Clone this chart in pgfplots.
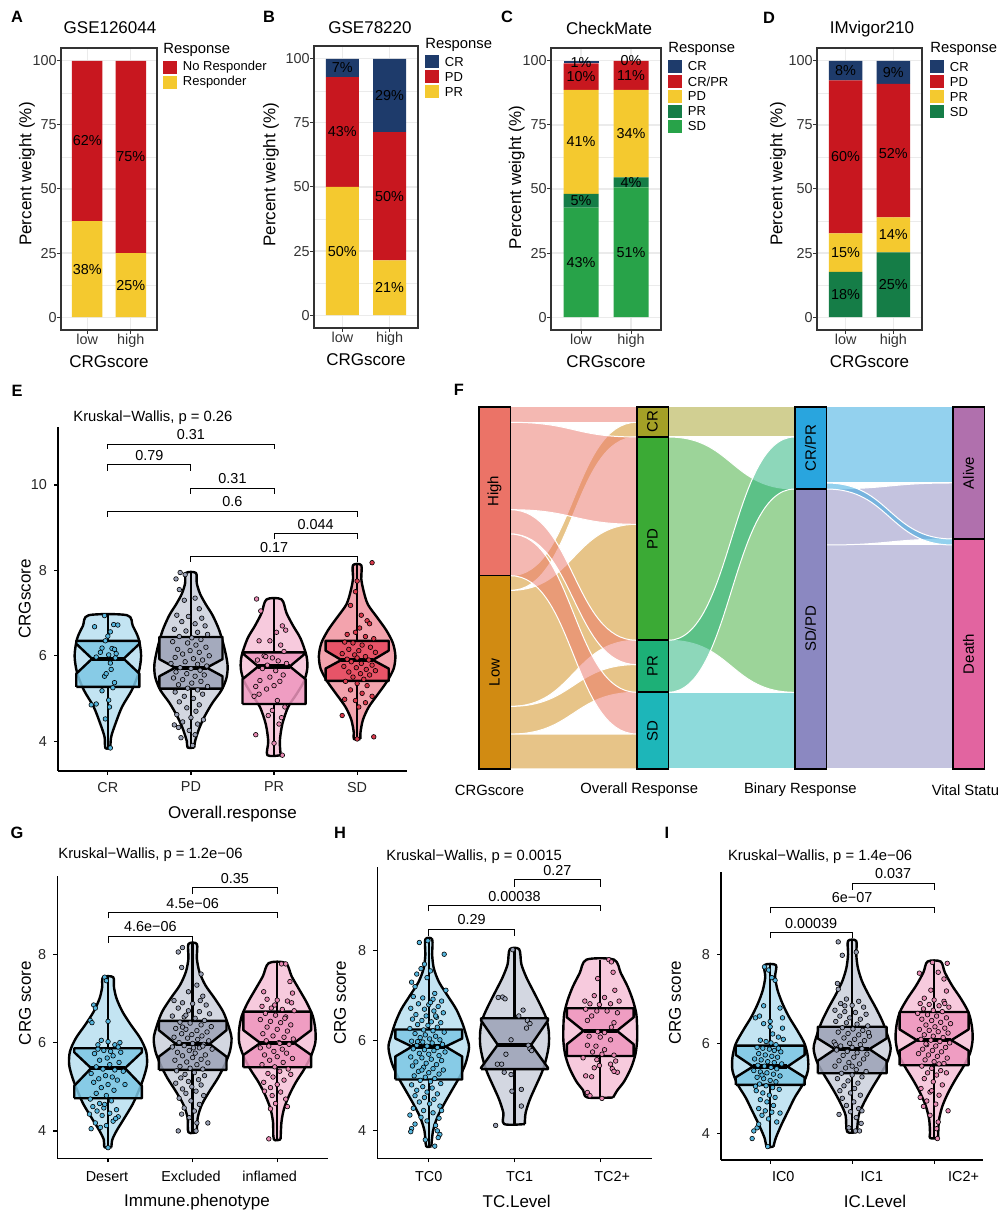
\documentclass[border=0pt]{standalone}
\usepackage{fontspec}
\setmainfont{Liberation Sans}
\usepackage{pgfplots}
\pgfplotsset{compat=1.18}
\usepackage{pgfplotstable}

\definecolor{cRed}{HTML}{C8171F}\definecolor{cYel}{HTML}{F4C92F}\definecolor{cNavy}{HTML}{1E3B6B}
\definecolor{cDGrn}{HTML}{157D47}\definecolor{cGrn}{HTML}{28A349}
\definecolor{bL}{HTML}{C3E4F2}\definecolor{bB}{HTML}{7DC7E5}\definecolor{bP}{HTML}{56B6DE}
\definecolor{gL}{HTML}{D3D7E1}\definecolor{gB}{HTML}{9CA3B7}\definecolor{gP}{HTML}{9AA1B5}
\definecolor{pL}{HTML}{F7CADD}\definecolor{pB}{HTML}{EE96BE}\definecolor{pP}{HTML}{E88AB3}
\definecolor{rL}{HTML}{F3A3AD}\definecolor{rB}{HTML}{E6475C}\definecolor{rP}{HTML}{D93A4C}
\definecolor{fHigh}{HTML}{EB7367}\definecolor{fLow}{HTML}{D18B12}\definecolor{fCR}{HTML}{A4A026}
\definecolor{fPD}{HTML}{3BAA35}\definecolor{fPR}{HTML}{1DB077}\definecolor{fSD}{HTML}{1DB6B9}
\definecolor{fCRPR}{HTML}{29A5DE}\definecolor{fSDPD}{HTML}{8B88C1}\definecolor{fAl}{HTML}{B070AD}\definecolor{fDe}{HTML}{E264A0}

\newcommand\tk{\fontsize{7.2}{8.5}\selectfont}
\newcommand\lb{\fontsize{8.5}{10}\selectfont}
\newcommand\an{\fontsize{7.2}{8.5}\selectfont}
\newcommand\kw{\fontsize{7.4}{8.5}\selectfont}
\newcommand\lgt{\fontsize{7.4}{8.5}\selectfont}
\newcommand\lgi{\fontsize{6.5}{7.5}\selectfont}
\newcommand\pl{\fontsize{8.2}{10}\bfseries\selectfont}
\newcommand\stf{\fontsize{7.5}{9}\selectfont}

% violin outlines: y and signed half width (right side up, left side down)
\pgfplotstableread[row sep=\\]{y w\\ 3.84 0.03\\ 4.1 0.04\\ 4.4 0.09\\ 4.8 0.17\\ 5.2 0.29\\ 5.6 0.37\\ 6.0 0.40\\ 6.4 0.37\\ 6.7 0.30\\ 6.95 0.23\\ 6.95 -0.23\\ 6.7 -0.30\\ 6.4 -0.37\\ 6.0 -0.40\\ 5.6 -0.37\\ 5.2 -0.29\\ 4.8 -0.17\\ 4.4 -0.09\\ 4.1 -0.04\\ 3.84 -0.03\\ 3.84 0.03\\}\vECR
\pgfplotstableread[row sep=\\]{y w\\ 3.85 0.04\\ 4.0 0.05\\ 4.3 0.10\\ 4.6 0.17\\ 4.9 0.26\\ 5.2 0.37\\ 5.5 0.43\\ 5.8 0.44\\ 6.2 0.40\\ 6.6 0.34\\ 6.95 0.26\\ 7.2 0.18\\ 7.45 0.11\\ 7.7 0.07\\ 7.94 0.06\\ 7.94 -0.06\\ 7.7 -0.07\\ 7.45 -0.11\\ 7.2 -0.18\\ 6.95 -0.26\\ 6.6 -0.34\\ 6.2 -0.40\\ 5.8 -0.44\\ 5.5 -0.43\\ 5.2 -0.37\\ 4.9 -0.26\\ 4.6 -0.17\\ 4.3 -0.10\\ 4.0 -0.05\\ 3.85 -0.04\\ 3.85 0.04\\}\vEPD
\pgfplotstableread[row sep=\\]{y w\\ 3.67 0.08\\ 4.0 0.07\\ 4.4 0.10\\ 4.8 0.17\\ 5.1 0.27\\ 5.4 0.36\\ 5.7 0.40\\ 6.0 0.39\\ 6.4 0.32\\ 6.7 0.23\\ 7.0 0.15\\ 7.32 0.09\\ 7.32 -0.09\\ 7.0 -0.15\\ 6.7 -0.23\\ 6.4 -0.32\\ 6.0 -0.39\\ 5.7 -0.40\\ 5.4 -0.36\\ 5.1 -0.27\\ 4.8 -0.17\\ 4.4 -0.10\\ 4.0 -0.07\\ 3.67 -0.08\\ 3.67 0.08\\}\vEPR
\pgfplotstableread[row sep=\\]{y w\\ 4.05 0.04\\ 4.2 0.04\\ 4.5 0.07\\ 4.8 0.14\\ 5.1 0.25\\ 5.4 0.36\\ 5.7 0.44\\ 6.0 0.46\\ 6.3 0.43\\ 6.6 0.35\\ 6.9 0.24\\ 7.2 0.13\\ 7.5 0.08\\ 7.8 0.05\\ 8.12 0.05\\ 8.12 -0.05\\ 7.8 -0.05\\ 7.5 -0.08\\ 7.2 -0.13\\ 6.9 -0.24\\ 6.6 -0.35\\ 6.3 -0.43\\ 6.0 -0.46\\ 5.7 -0.44\\ 5.4 -0.36\\ 5.1 -0.25\\ 4.8 -0.14\\ 4.5 -0.07\\ 4.2 -0.04\\ 4.05 -0.04\\ 4.05 0.04\\}\vESD
\pgfplotstableread[row sep=\\]{y w\\ 3.63 0.04\\ 3.8 0.05\\ 4.0 0.10\\ 4.25 0.18\\ 4.6 0.29\\ 4.9 0.36\\ 5.2 0.42\\ 5.5 0.46\\ 5.8 0.45\\ 6.1 0.38\\ 6.4 0.27\\ 6.7 0.17\\ 7.0 0.10\\ 7.25 0.07\\ 7.48 0.06\\ 7.48 -0.06\\ 7.25 -0.07\\ 7.0 -0.10\\ 6.7 -0.17\\ 6.4 -0.27\\ 6.1 -0.38\\ 5.8 -0.45\\ 5.5 -0.46\\ 5.2 -0.42\\ 4.9 -0.36\\ 4.6 -0.29\\ 4.25 -0.18\\ 4.0 -0.10\\ 3.8 -0.05\\ 3.63 -0.04\\ 3.63 0.04\\}\vGD
\pgfplotstableread[row sep=\\]{y w\\ 3.97 0.05\\ 4.3 0.06\\ 4.6 0.11\\ 4.9 0.20\\ 5.2 0.30\\ 5.5 0.38\\ 5.8 0.44\\ 6.1 0.46\\ 6.4 0.42\\ 6.7 0.36\\ 7.0 0.26\\ 7.3 0.15\\ 7.6 0.08\\ 7.9 0.05\\ 8.23 0.05\\ 8.23 -0.05\\ 7.9 -0.05\\ 7.6 -0.08\\ 7.3 -0.15\\ 7.0 -0.26\\ 6.7 -0.36\\ 6.4 -0.42\\ 6.1 -0.46\\ 5.8 -0.44\\ 5.5 -0.38\\ 5.2 -0.30\\ 4.9 -0.20\\ 4.6 -0.11\\ 4.3 -0.06\\ 3.97 -0.05\\ 3.97 0.05\\}\vGE
\pgfplotstableread[row sep=\\]{y w\\ 3.81 0.04\\ 4.2 0.05\\ 4.5 0.08\\ 4.8 0.14\\ 5.1 0.22\\ 5.4 0.32\\ 5.7 0.40\\ 6.0 0.45\\ 6.3 0.45\\ 6.6 0.42\\ 6.9 0.35\\ 7.2 0.26\\ 7.5 0.17\\ 7.8 0.10\\ 7.8 -0.10\\ 7.5 -0.17\\ 7.2 -0.26\\ 6.9 -0.35\\ 6.6 -0.42\\ 6.3 -0.45\\ 6.0 -0.45\\ 5.7 -0.40\\ 5.4 -0.32\\ 5.1 -0.22\\ 4.8 -0.14\\ 4.5 -0.08\\ 4.2 -0.05\\ 3.81 -0.04\\ 3.81 0.04\\}\vGI
\pgfplotstableread[row sep=\\]{y w\\ 3.66 0.03\\ 4.0 0.05\\ 4.3 0.10\\ 4.6 0.18\\ 4.9 0.27\\ 5.2 0.36\\ 5.5 0.43\\ 5.85 0.47\\ 6.1 0.44\\ 6.4 0.39\\ 6.7 0.32\\ 7.0 0.22\\ 7.3 0.12\\ 7.6 0.06\\ 7.9 0.04\\ 8.25 0.04\\ 8.25 -0.04\\ 7.9 -0.04\\ 7.6 -0.06\\ 7.3 -0.12\\ 7.0 -0.22\\ 6.7 -0.32\\ 6.4 -0.39\\ 6.1 -0.44\\ 5.85 -0.47\\ 5.5 -0.43\\ 5.2 -0.36\\ 4.9 -0.27\\ 4.6 -0.18\\ 4.3 -0.10\\ 4.0 -0.05\\ 3.66 -0.03\\ 3.66 0.03\\}\vHA
\pgfplotstableread[row sep=\\]{y w\\ 4.15 0.12\\ 4.4 0.13\\ 4.7 0.18\\ 5.0 0.25\\ 5.3 0.32\\ 5.6 0.37\\ 5.9 0.40\\ 6.2 0.40\\ 6.5 0.37\\ 6.8 0.30\\ 7.1 0.22\\ 7.4 0.14\\ 7.7 0.08\\ 8.03 0.055\\ 8.03 -0.055\\ 7.7 -0.08\\ 7.4 -0.14\\ 7.1 -0.22\\ 6.8 -0.30\\ 6.5 -0.37\\ 6.2 -0.40\\ 5.9 -0.40\\ 5.6 -0.37\\ 5.3 -0.32\\ 5.0 -0.25\\ 4.7 -0.18\\ 4.4 -0.13\\ 4.15 -0.12\\ 4.15 0.12\\}\vHB
\pgfplotstableread[row sep=\\]{y w\\ 4.74 0.15\\ 4.9 0.20\\ 5.1 0.28\\ 5.4 0.36\\ 5.7 0.41\\ 6.0 0.43\\ 6.3 0.43\\ 6.6 0.42\\ 6.9 0.38\\ 7.2 0.32\\ 7.5 0.24\\ 7.8 0.16\\ 7.8 -0.16\\ 7.5 -0.24\\ 7.2 -0.32\\ 6.9 -0.38\\ 6.6 -0.42\\ 6.3 -0.43\\ 6.0 -0.43\\ 5.7 -0.41\\ 5.4 -0.36\\ 5.1 -0.28\\ 4.9 -0.20\\ 4.74 -0.15\\ 4.74 0.15\\}\vHC
\pgfplotstableread[row sep=\\]{y w\\ 3.70 0.04\\ 3.9 0.07\\ 4.2 0.14\\ 4.5 0.22\\ 4.8 0.30\\ 5.1 0.40\\ 5.4 0.46\\ 5.7 0.46\\ 6.0 0.42\\ 6.3 0.33\\ 6.6 0.23\\ 6.9 0.15\\ 7.2 0.09\\ 7.5 0.06\\ 7.76 0.07\\ 7.76 -0.07\\ 7.5 -0.06\\ 7.2 -0.09\\ 6.9 -0.15\\ 6.6 -0.23\\ 6.3 -0.33\\ 6.0 -0.42\\ 5.7 -0.46\\ 5.4 -0.46\\ 5.1 -0.40\\ 4.8 -0.30\\ 4.5 -0.22\\ 4.2 -0.14\\ 3.9 -0.07\\ 3.70 -0.04\\ 3.70 0.04\\}\vIA
\pgfplotstableread[row sep=\\]{y w\\ 4.03 0.06\\ 4.4 0.08\\ 4.7 0.15\\ 5.0 0.24\\ 5.3 0.34\\ 5.6 0.43\\ 5.9 0.47\\ 6.2 0.43\\ 6.5 0.37\\ 6.8 0.29\\ 7.1 0.20\\ 7.4 0.12\\ 7.7 0.07\\ 8.0 0.05\\ 8.30 0.05\\ 8.30 -0.05\\ 8.0 -0.05\\ 7.7 -0.07\\ 7.4 -0.12\\ 7.1 -0.20\\ 6.8 -0.29\\ 6.5 -0.37\\ 6.2 -0.43\\ 5.9 -0.47\\ 5.6 -0.43\\ 5.3 -0.34\\ 5.0 -0.24\\ 4.7 -0.15\\ 4.4 -0.08\\ 4.03 -0.06\\ 4.03 0.06\\}\vIB
\pgfplotstableread[row sep=\\]{y w\\ 3.89 0.05\\ 4.0 0.05\\ 4.3 0.06\\ 4.6 0.10\\ 4.9 0.17\\ 5.2 0.26\\ 5.5 0.36\\ 5.8 0.44\\ 6.1 0.47\\ 6.4 0.46\\ 6.7 0.42\\ 7.0 0.33\\ 7.3 0.22\\ 7.6 0.13\\ 7.84 0.08\\ 7.84 -0.08\\ 7.6 -0.13\\ 7.3 -0.22\\ 7.0 -0.33\\ 6.7 -0.42\\ 6.4 -0.46\\ 6.1 -0.47\\ 5.8 -0.44\\ 5.5 -0.36\\ 5.2 -0.26\\ 4.9 -0.17\\ 4.6 -0.10\\ 4.3 -0.06\\ 4.0 -0.05\\ 3.89 -0.05\\ 3.89 0.05\\}\vIC

\newcommand\violin[3]{%
 \addplot[fill=#3, draw=black, line width=1.2pt, line join=round, smooth, tension=0.5] table[x expr={#1+\thisrow{w}}, y=y] {#2};}
\newcommand\wh[5]{%
 \addplot[black, line width=1.2pt] coordinates {(#1,#2)(#1,#3)};
 \addplot[black, line width=1.2pt] coordinates {(#1,#4)(#1,#5)};}
\newcommand\nbox[8]{% c hw q1 nlo med nhi q3 color
 \pgfmathsetmacro\xl{#1-#2}\pgfmathsetmacro\xr{#1+#2}\pgfmathsetmacro\xnl{#1-#2/2}\pgfmathsetmacro\xnr{#1+#2/2}%
 \edef\tmp{\noexpand\addplot[fill=#8, fill opacity=0.85, draw=black, line width=1.2pt, line join=round] coordinates {(\xl,#3) (\xl,#4) (\xnl,#5) (\xl,#6) (\xl,#7) (\xr,#7) (\xr,#6) (\xnr,#5) (\xr,#4) (\xr,#3) (\xl,#3)};}\tmp
 \edef\tmp{\noexpand\addplot[black, line width=2.2pt] coordinates {(\xnl,#5) (\xnr,#5)};}\tmp}
\newcommand\br[6]{% x1 x2 xm ydrop yline text
 \draw[line width=0.5pt] (axis cs:#1,#4) -- (axis cs:#1,#5) -- (axis cs:#2,#5) -- (axis cs:#2,#4);
 \node[font=\an, anchor=south, inner sep=2pt] at (axis cs:#3,#5) {#6};}
\newcommand\flow[7]{% x1 a1 b1 x2 a2 b2 color
 \pgfmathsetmacro\fxs{#1+0.1}\pgfmathsetmacro\fxe{#4-0.1}\pgfmathsetmacro\fxm{(#1+#4)/2}%
 \edef\tmp{\noexpand\fill[#7, fill opacity=0.5, draw=white, line width=0.5pt] (axis cs:\fxs,#3) .. controls (axis cs:\fxm,#3) and (axis cs:\fxm,#6) .. (axis cs:\fxe,#6) -- (axis cs:\fxe,#5) .. controls (axis cs:\fxm,#5) and (axis cs:\fxm,#2) .. (axis cs:\fxs,#2) -- cycle;}\tmp}
\newcommand\lkey[4]{\fill[#3] (#1,{1211-#2-6.5}) rectangle ({#1+14},{1211-#2+6.5}); \node[anchor=west,font=\lgi,inner sep=0] at ({#1+19.5},{1211-#2}) {#4};}

\pgfplotsset{
 /pgf/number format/assume math mode=true,
 pts/.style={only marks, mark=*, mark size=1.15pt, mark options={fill=#1, draw=black, line width=0.3pt}},
 barax/.style={anchor=south west, scale only axis, height=141pt, ymin=-5, ymax=105, xmin=0.4, xmax=2.6,
  ybar stacked, bar width=0.7, ytick={0,25,50,75,100}, minor ytick={12.5,37.5,62.5,87.5},
  xtick={1,2}, xticklabels={low,high}, grid=both,
  major grid style={draw=black!8, line width=0.6pt}, minor grid style={draw=black!8, line width=0.35pt},
  axis line style={draw=black!80, line width=0.6pt}, tick pos=left, tick align=outside,
  major tick length=2pt, minor tick length=0pt, major tick style={draw=black!80, line width=0.5pt},
  ticklabel style={font=\tk, text=black!80},
  yticklabel style={xshift=0.8pt, inner sep=0.8pt}, xticklabel style={yshift=1.2pt, inner sep=0.8pt},
  xlabel={CRGscore}, ylabel={Percent weight (\%)},
  label style={font=\lb}, clip=false},
 vax/.style={anchor=south west, scale only axis, axis lines*=left, axis line style={line width=0.7pt},
  tick align=outside, major tick length=2pt, tick style={black, line width=0.6pt},
  ticklabel style={font=\tk, text=black!85}, label style={font=\lb}, clip=false},
}

\begin{document}
\begin{tikzpicture}[x=0.5pt,y=0.5pt]
\fill[white] (0,0) rectangle (998,1211);

% ---------------- A ----------------
\node[font=\pl] at (17,1194) {A};
\node[font=\lb] at (110,1183) {GSE126044};
\begin{axis}[barax, at={(30.5pt,440.5pt)}, width=48pt,
 xlabel style={at={(axis description cs:0.5,-0.113)},anchor=center},
 ylabel style={at={(axis description cs:-0.354,0.553)},anchor=center}]
\addplot[fill=cYel, draw=none] coordinates {(1,37.5)(2,25)};
\addplot[fill=cRed, draw=none] coordinates {(1,62.5)(2,75)};
\coordinate (a1) at (axis cs:1,18.75);
\coordinate (a2) at (axis cs:1,68.75);
\coordinate (a3) at (axis cs:2,12.5);
\coordinate (a4) at (axis cs:2,62.5);
\end{axis}
\node[font=\tk] at (a1) {38\%};
\node[font=\tk] at (a2) {62\%};
\node[font=\tk] at (a3) {25\%};
\node[font=\tk] at (a4) {75\%};
\node[anchor=west,font=\lgt,inner sep=0] at (163,1161) {Response};
\lkey{163}{67.5}{cRed}{No Responder}
\lkey{163}{82.5}{cYel}{Responder}

% ---------------- B ----------------
\node[font=\pl] at (269,1194) {B};
\node[font=\lb] at (370,1183) {GSE78220};
\begin{axis}[barax, at={(157pt,441.5pt)}, width=52pt,
 xlabel style={at={(axis description cs:0.5,-0.113)},anchor=center},
 ylabel style={at={(axis description cs:-0.413,0.543)},anchor=center}]
\addplot[fill=cYel, draw=none] coordinates {(1,50)(2,21.4)};
\addplot[fill=cRed, draw=none] coordinates {(1,42.9)(2,50)};
\addplot[fill=cNavy, draw=none] coordinates {(1,7.1)(2,28.6)};
\coordinate (b1) at (axis cs:1,25);
\coordinate (b2) at (axis cs:1,71.45);
\coordinate (b3) at (axis cs:1,96.45);
\coordinate (b4) at (axis cs:2,10.7);
\coordinate (b5) at (axis cs:2,46.4);
\coordinate (b6) at (axis cs:2,85.7);
\end{axis}
\node[font=\tk] at (b1) {50\%};
\node[font=\tk] at (b2) {43\%};
\node[font=\tk] at (b3) {7\%};
\node[font=\tk] at (b4) {21\%};
\node[font=\tk] at (b5) {50\%};
\node[font=\tk] at (b6) {29\%};
\node[anchor=west,font=\lgt,inner sep=0] at (425,1166) {Response};
\lkey{425}{62}{cNavy}{CR}
\lkey{425}{77}{cRed}{PD}
\lkey{425}{92}{cYel}{PR}

% ---------------- C ----------------
\node[font=\pl] at (507,1194) {C};
\node[font=\lb] at (609,1183) {CheckMate};
\begin{axis}[barax, at={(275.5pt,440.5pt)}, width=55pt,
 xlabel style={at={(axis description cs:0.5,-0.112)},anchor=center},
 ylabel style={at={(axis description cs:-0.312,0.541)},anchor=center}]
\addplot[fill=cGrn, draw=none] coordinates {(1,42.7)(2,50.6)};
\addplot[fill=cDGrn, draw=none] coordinates {(1,5.4)(2,3.9)};
\addplot[fill=cYel, draw=none] coordinates {(1,40.6)(2,34.2)};
\addplot[fill=cRed, draw=none] coordinates {(1,10.3)(2,11.3)};
\addplot[fill=cNavy, draw=none] coordinates {(1,1.0)(2,0)};
\coordinate (c1) at (axis cs:1,21.35);
\coordinate (c2) at (axis cs:1,45.4);
\coordinate (c3) at (axis cs:1,68.4);
\coordinate (c4) at (axis cs:1,93.85);
\coordinate (c5) at (axis cs:1,99.5);
\coordinate (c6) at (axis cs:2,25.3);
\coordinate (c7) at (axis cs:2,52.55);
\coordinate (c8) at (axis cs:2,71.6);
\coordinate (c9) at (axis cs:2,94.35);
\coordinate (c10) at (axis cs:2,100);
\end{axis}
\node[font=\tk] at (c1) {43\%};
\node[font=\tk] at (c2) {5\%};
\node[font=\tk] at (c3) {41\%};
\node[font=\tk] at (c4) {10\%};
\node[font=\tk] at (c5) {1\%};
\node[font=\tk] at (c6) {51\%};
\node[font=\tk] at (c7) {4\%};
\node[font=\tk] at (c8) {34\%};
\node[font=\tk] at (c9) {11\%};
\node[font=\tk] at (c10) {0\%};
\node[anchor=west,font=\lgt,inner sep=0] at (668,1162) {Response};
\lkey{668}{66.5}{cNavy}{CR}
\lkey{668}{81.5}{cRed}{CR/PR}
\lkey{668}{96.5}{cYel}{PD}
\lkey{668}{111.5}{cDGrn}{PR}
\lkey{668}{126.5}{cGrn}{SD}

% ---------------- D ----------------
\node[font=\pl] at (769,1193) {D};
\node[font=\lb] at (872,1182) {IMvigor210};
\begin{axis}[barax, at={(408.5pt,440.5pt)}, width=52.5pt,
 xlabel style={at={(axis description cs:0.5,-0.112)},anchor=center},
 ylabel style={at={(axis description cs:-0.371,0.553)},anchor=center}]
\addplot[fill=cDGrn, draw=none] coordinates {(1,17.7)(2,25.3)};
\addplot[fill=cYel, draw=none] coordinates {(1,15.0)(2,13.6)};
\addplot[fill=cRed, draw=none] coordinates {(1,59.7)(2,52.1)};
\addplot[fill=cNavy, draw=none] coordinates {(1,7.6)(2,9.0)};
\coordinate (d1) at (axis cs:1,8.85);
\coordinate (d2) at (axis cs:1,25.2);
\coordinate (d3) at (axis cs:1,62.55);
\coordinate (d4) at (axis cs:1,96.2);
\coordinate (d5) at (axis cs:2,12.65);
\coordinate (d6) at (axis cs:2,32.1);
\coordinate (d7) at (axis cs:2,63.95);
\coordinate (d8) at (axis cs:2,95.5);
\end{axis}
\node[font=\tk] at (d1) {18\%};
\node[font=\tk] at (d2) {15\%};
\node[font=\tk] at (d3) {60\%};
\node[font=\tk] at (d4) {8\%};
\node[font=\tk] at (d5) {25\%};
\node[font=\tk] at (d6) {14\%};
\node[font=\tk] at (d7) {52\%};
\node[font=\tk] at (d8) {9\%};
\node[anchor=west,font=\lgt,inner sep=0] at (930,1162) {Response};
\lkey{930}{67}{cNavy}{CR}
\lkey{930}{82}{cRed}{PD}
\lkey{930}{97}{cYel}{PR}
\lkey{930}{112}{cDGrn}{SD}

% ---------------- E ----------------
\node[font=\pl] at (17,820) {E};
\node[anchor=west,font=\kw,inner sep=0] at (73,793) {Kruskal−Wallis, p = 0.26};
\begin{axis}[vax, at={(29pt,220pt)}, width=174.5pt, height=172pt, xmin=0.4, xmax=4.6, ymin=3.3, ymax=11.36,
 ytick={4,6,8,10}, xtick={1,2,3,4}, xticklabels={CR,PD,PR,SD}, xlabel={Overall.response}, ylabel={CRGscore},
 xlabel style={at={(axis description cs:0.5,-0.125)},anchor=center},
 ylabel style={at={(axis description cs:-0.095,0.5)},anchor=center}]
\violin{1}{\vECR}{bL}
\wh{1}{5.27}{3.84}{6.35}{6.95}
\nbox{1}{0.38}{5.27}{5.58}{5.93}{6.28}{6.35}{bB}
\addplot[pts=bP] coordinates {(0.96,6.94)(0.84,6.68)(1.07,6.73)(1.03,6.56)(1.00,6.46)(0.97,6.35)(0.93,6.18)(1.05,6.17)(1.08,6.15)(1.01,6.02)(0.86,5.97)(1.09,5.95)(1.03,5.83)(1.04,5.68)(0.96,5.52)(1.08,5.37)(0.93,5.18)(0.86,4.87)(1.01,4.96)(1.02,4.80)(0.80,4.85)(0.97,4.52)(1.03,3.84)(1.12,6.72)(0.91,6.08)(1.06,5.25)(0.98,5.58)(1.10,6.05)};
\violin{2}{\vEPD}{gL}
\wh{2}{5.23}{3.85}{6.44}{7.94}
\nbox{2}{0.38}{5.23}{5.52}{5.72}{5.92}{6.44}{gB}
\addplot[pts=gP] coordinates {(1.87,7.95)(1.93,7.90)(1.82,7.80)(1.86,7.55)(2.05,7.35)(1.92,7.30)(2.10,7.10)(1.83,6.95)(1.97,6.92)(2.13,6.88)(1.89,6.80)(2.05,6.75)(2.17,6.70)(1.80,6.62)(1.94,6.58)(2.08,6.55)(2.20,6.50)(1.86,6.45)(2.01,6.42)(2.12,6.38)(1.78,6.33)(1.96,6.30)(2.06,6.25)(2.18,6.20)(1.84,6.15)(1.99,6.12)(2.10,6.08)(1.90,6.04)(2.22,6.00)(1.81,5.96)(2.03,5.93)(2.14,5.90)(1.93,5.86)(1.76,5.82)(2.08,5.80)(2.19,5.76)(1.87,5.72)(2.00,5.70)(2.11,5.66)(1.82,5.62)(1.95,5.58)(2.16,5.55)(2.05,5.52)(1.79,5.48)(1.90,5.44)(2.12,5.40)(2.01,5.36)(1.85,5.32)(2.20,5.28)(1.96,5.24)(2.08,5.20)(1.81,5.15)(2.14,5.10)(1.92,5.05)(2.03,5.00)(1.86,4.92)(2.10,4.85)(1.95,4.78)(2.06,4.70)(1.83,4.62)(2.00,4.55)(1.90,4.45)(2.08,4.40)(1.85,4.32)(1.98,4.25)(2.05,4.15)(1.88,4.08)(2.02,3.90)(1.80,4.38)(2.15,4.50)};
\violin{3}{\vEPR}{pL}
\wh{3}{4.87}{3.67}{6.08}{7.32}
\nbox{3}{0.38}{4.87}{5.45}{5.75}{6.06}{6.08}{pB}
\addplot[pts=pP] coordinates {(2.79,7.33)(2.84,7.05)(3.03,6.55)(3.10,6.70)(3.14,6.60)(2.82,6.35)(2.95,6.35)(3.08,6.25)(3.12,6.10)(2.88,6.00)(2.98,5.95)(2.80,5.90)(3.05,5.88)(3.15,5.82)(2.92,5.78)(2.86,5.70)(3.02,5.65)(3.11,5.55)(2.95,5.50)(2.83,5.42)(3.07,5.40)(2.78,5.28)(2.91,5.22)(3.00,5.30)(2.82,5.10)(2.76,5.05)(3.04,4.95)(3.13,4.80)(2.98,4.72)(3.09,4.55)(2.93,4.60)(3.06,4.40)(2.78,4.15)(3.00,3.95)(3.10,3.67)(2.90,5.98)};
\violin{4}{\vESD}{rL}
\wh{4}{5.41}{4.05}{6.35}{8.12}
\nbox{4}{0.38}{5.41}{5.70}{5.90}{6.12}{6.35}{rB}
\addplot[pts=rP] coordinates {(4.18,8.18)(4.00,7.75)(3.98,7.50)(3.92,7.18)(4.05,6.95)(4.12,6.82)(4.15,6.75)(4.03,6.65)(3.98,6.55)(3.88,6.50)(4.10,6.45)(4.20,6.40)(3.85,6.32)(3.95,6.30)(4.06,6.25)(4.16,6.20)(3.90,6.15)(4.02,6.12)(4.22,6.08)(3.82,6.05)(3.97,6.02)(4.10,5.98)(4.00,5.95)(3.88,5.92)(4.14,5.90)(3.93,5.86)(4.05,5.82)(4.18,5.78)(3.84,5.75)(3.99,5.72)(4.11,5.68)(4.22,5.65)(3.90,5.62)(4.04,5.58)(4.15,5.55)(3.95,5.50)(4.08,5.45)(3.86,5.40)(4.00,5.35)(4.12,5.30)(3.92,5.20)(4.06,5.12)(4.18,5.05)(3.85,4.98)(3.98,4.95)(4.10,4.90)(4.02,4.80)(3.82,4.60)(4.00,4.05)(4.20,4.10)};
\br{1}{3}{2}{10.84}{10.96}{0.31}
\br{1}{2}{1.5}{10.33}{10.47}{0.79}
\br{2}{3}{2.5}{9.79}{9.92}{0.31}
\br{1}{4}{2.5}{9.26}{9.39}{0.6}
\br{3}{4}{3.5}{8.73}{8.86}{0.044}
\br{2}{4}{3}{8.20}{8.32}{0.17}
\end{axis}

% ---------------- F ----------------
\node[font=\pl] at (459,821) {F};
\begin{axis}[anchor=south west, at={(239.35pt,221pt)}, scale only axis, width=252.8pt, height=181pt,
 xmin=0.9, xmax=4.1, ymin=0, ymax=362, hide axis, clip=false]
\flow{1}{178.6}{193.3}{2}{332}{346.7}{fLow}
\flow{1}{62.6}{178.6}{2}{128.7}{244.7}{fLow}
\flow{1}{34.9}{62.6}{2}{76.7}{104.4}{fLow}
\flow{1}{0}{34.9}{2}{0}{35}{fLow}
\flow{1}{346.7}{362}{2}{346.7}{362}{fHigh}
\flow{1}{259.3}{346.7}{2}{244.7}{332}{fHigh}
\flow{1}{235}{259.3}{2}{104.4}{128.7}{fHigh}
\flow{1}{193.3}{235}{2}{35}{76.7}{fHigh}
\flow{2}{332}{362}{3}{332}{362}{fCR}
\flow{2}{128.7}{332}{3}{76.7}{280}{fPD}
\flow{2}{76.7}{128.7}{3}{280}{332}{fPR}
\flow{2}{0}{76.7}{3}{0}{76.7}{fSD}
\flow{3}{0}{224}{4}{0}{224}{fSDPD}
\flow{3}{224}{280}{4}{230}{286}{fSDPD}
\flow{3}{286}{362}{4}{286}{362}{fCRPR}
\flow{3}{280}{286}{4}{224}{230}{fCRPR}
\draw[fill=fHigh, line width=0.8pt] (axis cs:0.9,193.3) rectangle (axis cs:1.1,362);
\draw[fill=fLow, line width=0.8pt] (axis cs:0.9,0) rectangle (axis cs:1.1,193.3);
\draw[fill=fCR, line width=0.8pt] (axis cs:1.9,332) rectangle (axis cs:2.1,362);
\draw[fill=fPD, line width=0.8pt] (axis cs:1.9,128.7) rectangle (axis cs:2.1,332);
\draw[fill=fPR, line width=0.8pt] (axis cs:1.9,76.7) rectangle (axis cs:2.1,128.7);
\draw[fill=fSD, line width=0.8pt] (axis cs:1.9,0) rectangle (axis cs:2.1,76.7);
\draw[fill=fCRPR, line width=0.8pt] (axis cs:2.9,280) rectangle (axis cs:3.1,362);
\draw[fill=fSDPD, line width=0.8pt] (axis cs:2.9,0) rectangle (axis cs:3.1,280);
\draw[fill=fAl, line width=0.8pt] (axis cs:3.9,230) rectangle (axis cs:4.1,362);
\draw[fill=fDe, line width=0.8pt] (axis cs:3.9,0) rectangle (axis cs:4.1,230);
\node[rotate=90,font=\stf] at (axis cs:1,277.6) {High};
\node[rotate=90,font=\stf] at (axis cs:1,96.7) {Low};
\node[rotate=90,font=\stf] at (axis cs:2,347) {CR};
\node[rotate=90,font=\stf] at (axis cs:2,230.4) {PD};
\node[rotate=90,font=\stf] at (axis cs:2,102.7) {PR};
\node[rotate=90,font=\stf] at (axis cs:2,38.4) {SD};
\node[rotate=90,font=\stf] at (axis cs:3,321) {CR/PR};
\node[rotate=90,font=\stf] at (axis cs:3,140) {SD/PD};
\node[rotate=90,font=\stf] at (axis cs:4,296) {Alive};
\node[rotate=90,font=\stf] at (axis cs:4,115) {Death};
\node[font=\lgt] at (axis cs:0.968,-21) {CRGscore};
\node[font=\lgt] at (axis cs:1.916,-21) {Overall Response};
\node[font=\lgt] at (axis cs:2.936,-21) {Binary Response};
\node[font=\lgt] at (axis cs:4.004,-21) {Vital Status};
\end{axis}

% ---------------- G ----------------
\node[font=\pl] at (17,378) {G};
\node[anchor=west,font=\kw,inner sep=0] at (58,356) {Kruskal−Wallis, p = 1.2e−06};
\begin{axis}[vax, at={(28.65pt,26.35pt)}, width=135.35pt, height=141.15pt, xmin=0.4, xmax=3.6, ymin=3.38, ymax=9.77,
 ytick={4,6,8}, xtick={1,2,3}, xticklabels={\mbox{},\mbox{},\mbox{}}, xlabel={Immune.phenotype}, ylabel={CRG score},
 xlabel style={at={(axis description cs:0.516,-0.154)},anchor=center},
 ylabel style={at={(axis description cs:-0.119,0.55)},anchor=center}]
\violin{1}{\vGD}{bL}
\wh{1}{4.74}{3.63}{5.87}{7.48}
\nbox{1}{0.40}{4.74}{5.02}{5.42}{5.78}{5.87}{bB}
\addplot[pts=bP] coordinates {(0.96,7.48)(0.98,7.40)(0.83,6.85)(0.85,6.78)(0.79,6.50)(0.81,6.45)(1.00,6.48)(0.92,6.05)(1.00,6.02)(1.08,5.95)(1.12,5.90)(0.88,5.85)(0.95,5.82)(1.03,5.80)(1.15,5.78)(0.84,5.75)(1.06,5.70)(0.99,5.65)(0.90,5.60)(1.13,5.55)(1.02,5.50)(0.86,5.45)(0.94,5.40)(1.08,5.38)(1.18,5.35)(0.80,5.30)(0.97,5.25)(1.05,5.22)(0.89,5.18)(1.11,5.15)(0.83,5.10)(1.00,5.05)(1.20,5.05)(0.92,4.98)(1.07,4.92)(0.86,4.85)(0.98,4.80)(0.79,4.72)(1.04,4.68)(0.90,4.62)(0.82,4.55)(0.95,4.52)(1.10,4.48)(0.87,4.45)(1.02,4.40)(0.78,4.38)(0.93,4.35)(1.12,4.32)(1.06,4.22)(0.85,4.18)(0.98,4.12)(1.09,4.28)(0.91,4.08)(0.80,4.05)(1.00,3.62)(0.88,5.95)(1.14,6.00)(0.96,4.60)};
\violin{2}{\vGE}{gL}
\wh{2}{5.38}{3.97}{6.49}{8.23}
\nbox{2}{0.40}{5.38}{5.68}{5.97}{6.28}{6.49}{gB}
\addplot[pts=gP] coordinates {(1.83,8.05)(1.88,8.15)(1.87,7.70)(2.10,7.55)(2.05,7.30)(2.12,7.05)(1.78,6.95)(1.88,6.90)(2.00,6.88)(2.16,6.85)(1.83,6.78)(1.95,6.72)(2.08,6.70)(2.20,6.65)(1.76,6.60)(1.90,6.58)(2.03,6.55)(2.14,6.50)(1.85,6.46)(1.97,6.44)(2.10,6.40)(2.22,6.36)(1.80,6.32)(1.92,6.30)(2.05,6.27)(2.17,6.24)(1.87,6.20)(1.99,6.18)(2.11,6.15)(1.78,6.12)(1.94,6.10)(2.06,6.07)(2.19,6.04)(1.84,6.00)(2.00,5.98)(2.13,5.96)(1.90,5.93)(1.76,5.90)(2.08,5.88)(2.23,5.85)(1.96,5.82)(1.82,5.78)(2.03,5.76)(2.15,5.72)(1.88,5.70)(2.00,5.66)(2.10,5.62)(1.79,5.60)(1.93,5.56)(2.18,5.54)(2.05,5.50)(1.85,5.46)(1.97,5.42)(2.12,5.40)(1.81,5.36)(2.02,5.32)(1.91,5.28)(2.14,5.25)(1.86,5.20)(2.07,5.16)(1.95,5.12)(1.80,5.08)(2.10,5.04)(1.99,5.00)(1.88,4.95)(2.04,4.90)(1.92,4.85)(2.13,4.80)(1.84,4.74)(1.98,4.68)(2.08,4.60)(1.90,4.52)(2.02,4.45)(1.87,4.38)(1.96,4.30)(2.05,4.18)(2.18,4.18)(1.83,4.00)(2.04,4.00)(1.92,6.62)(2.09,6.95)(1.95,7.15)(2.01,5.88)(1.88,6.35)(2.12,5.92)};
\violin{3}{\vGI}{pL}
\wh{3}{5.44}{3.81}{6.70}{7.80}
\nbox{3}{0.40}{5.44}{5.72}{5.99}{6.28}{6.70}{pB}
\addplot[pts=pP] coordinates {(3.05,7.78)(3.10,7.78)(3.15,7.38)(2.84,7.15)(3.18,7.12)(2.88,6.98)(3.00,6.96)(3.12,6.94)(3.17,6.90)(2.82,6.82)(2.93,6.78)(3.06,6.75)(3.20,6.72)(2.86,6.66)(2.98,6.62)(3.10,6.58)(2.80,6.52)(2.92,6.48)(3.04,6.45)(3.16,6.40)(2.88,6.35)(3.00,6.30)(3.12,6.26)(2.83,6.20)(2.95,6.15)(3.08,6.12)(3.19,6.08)(2.87,6.04)(3.02,6.00)(3.14,5.96)(2.90,5.92)(2.80,5.88)(3.06,5.85)(2.96,5.80)(3.11,5.76)(2.85,5.72)(3.00,5.68)(3.18,5.64)(2.91,5.60)(3.07,5.55)(2.82,5.50)(2.97,5.45)(3.13,5.40)(3.03,5.35)(2.89,5.30)(3.16,5.28)(2.95,5.22)(3.08,5.15)(2.84,5.10)(3.00,5.05)(2.92,4.98)(2.85,4.90)(3.04,4.88)(2.94,4.80)(3.10,4.72)(2.98,4.62)(2.92,4.50)(3.12,4.55)(2.90,3.82)(3.03,5.98)(3.09,6.55)(2.97,6.85)};
\br{1}{2}{1.5}{8.26}{8.41}{4.6e−06}
\br{1}{3}{2}{8.81}{8.94}{4.5e−06}
\br{2}{3}{2.5}{9.36}{9.50}{0.35}
\node[font=\tk, yshift=-9.2pt] at (axis cs:0.988,3.38) {Desert};
\node[font=\tk, yshift=-9.2pt] at (axis cs:1.98,3.38) {Excluded};
\node[font=\tk, yshift=-9.2pt] at (axis cs:2.91,3.38) {inflamed};
\end{axis}

% ---------------- H ----------------
\node[font=\pl] at (340,378) {H};
\node[anchor=west,font=\kw,inner sep=0] at (386,354.3) {Kruskal−Wallis, p = 0.0015};
\begin{axis}[vax, at={(188.65pt,26.35pt)}, width=137.2pt, height=145.5pt, xmin=0.4, xmax=3.6, ymin=3.39, ymax=9.85,
 ytick={4,6,8}, xtick={1,2,3}, xticklabels={\mbox{},\mbox{},\mbox{}}, xlabel={TC.Level}, ylabel={CRG score},
 xlabel style={at={(axis description cs:0.508,-0.149)},anchor=center},
 ylabel style={at={(axis description cs:-0.136,0.534)},anchor=center}]
\violin{1}{\vHA}{bL}
\wh{1}{5.14}{3.66}{6.25}{8.25}
\nbox{1}{0.39}{5.14}{5.65}{5.87}{6.05}{6.25}{bB}
\addplot[pts=bP] coordinates {(0.89,8.18)(0.99,8.22)(1.18,7.92)(0.95,7.70)(0.91,7.60)(1.02,7.55)(0.86,7.48)(0.80,7.30)(0.84,7.20)(1.20,7.12)(0.98,7.40)(1.07,7.05)(0.82,6.98)(0.93,6.95)(1.05,6.92)(1.15,6.88)(0.88,6.82)(1.00,6.80)(1.11,6.76)(0.79,6.72)(0.95,6.70)(1.06,6.66)(1.17,6.62)(0.85,6.58)(0.97,6.55)(1.09,6.52)(0.81,6.48)(0.92,6.45)(1.03,6.42)(1.14,6.40)(0.87,6.36)(0.99,6.34)(1.10,6.30)(0.78,6.27)(0.94,6.24)(1.05,6.22)(1.18,6.19)(0.84,6.16)(0.96,6.13)(1.08,6.10)(0.90,6.07)(1.01,6.04)(1.13,6.02)(0.80,5.99)(0.93,5.97)(1.04,5.95)(1.16,5.92)(0.86,5.90)(0.98,5.88)(1.10,5.85)(0.82,5.82)(0.95,5.80)(1.06,5.78)(1.19,5.75)(0.89,5.72)(1.00,5.70)(1.12,5.67)(0.79,5.64)(0.92,5.62)(1.03,5.59)(1.15,5.56)(0.85,5.53)(0.97,5.50)(1.09,5.47)(0.81,5.44)(0.94,5.41)(1.05,5.38)(1.17,5.35)(0.88,5.32)(1.00,5.29)(1.12,5.26)(0.83,5.22)(0.96,5.19)(1.07,5.16)(0.90,5.12)(1.02,5.09)(1.14,5.05)(0.80,5.02)(0.93,4.98)(1.04,4.95)(0.86,4.90)(0.98,4.86)(1.10,4.82)(0.84,4.78)(0.95,4.74)(1.06,4.70)(0.89,4.64)(1.01,4.60)(1.13,4.55)(0.82,4.50)(0.94,4.45)(1.05,4.40)(0.78,4.35)(0.91,4.30)(1.12,4.28)(0.98,4.22)(0.84,4.15)(1.08,4.12)(0.80,4.05)(0.79,3.98)(1.10,4.00)(1.13,3.92)(1.11,3.85)(1.07,3.66)(0.96,3.80)(1.15,4.45)(0.87,5.98)(1.08,6.55)(0.92,5.35)(1.02,6.85)};
\violin{2}{\vHB}{gL}
\wh{2}{5.37}{4.15}{6.50}{8.03}
\nbox{2}{0.39}{5.37}{5.40}{5.91}{6.45}{6.50}{gB}
\addplot[pts=gP] coordinates {(1.98,8.02)(1.81,6.96)(1.86,6.97)(1.89,6.93)(2.10,6.68)(2.15,6.45)(2.18,6.38)(2.14,6.28)(1.96,6.02)(2.16,5.90)(2.18,5.82)(1.90,5.70)(1.80,5.48)(1.85,5.48)(1.88,5.30)(1.96,5.25)(1.97,4.88)(2.08,4.92)(2.08,4.55)(1.78,4.12)(2.20,5.78)(2.05,6.55)};
\violin{3}{\vHC}{pL}
\wh{3}{5.66}{4.74}{6.72}{7.80}
\nbox{3}{0.39}{5.66}{5.92}{6.22}{6.52}{6.72}{pB}
\addplot[pts=pP] coordinates {(3.10,7.80)(3.13,7.75)(3.15,7.52)(2.97,7.38)(2.93,7.00)(3.17,7.12)(3.05,6.96)(2.82,6.88)(2.88,6.82)(3.12,6.82)(2.99,6.80)(3.22,6.88)(2.83,6.70)(2.96,6.66)(3.08,6.66)(3.20,6.62)(2.90,6.55)(2.85,6.45)(3.16,6.40)(3.13,6.30)(2.97,6.20)(3.05,6.18)(2.87,6.10)(3.00,6.08)(3.12,6.02)(2.85,5.90)(2.95,5.88)(3.05,5.80)(2.91,5.75)(3.02,5.70)(3.16,5.68)(2.80,5.62)(2.96,5.58)(3.18,5.55)(3.12,5.48)(2.99,5.45)(3.14,5.38)(3.20,5.30)(2.93,5.40)(3.16,5.32)(2.83,5.22)(2.90,5.20)(2.85,4.85)(2.88,4.78)(3.02,4.72)};
\br{1}{2}{1.5}{8.33}{8.47}{0.29}
\br{1}{3}{2}{8.87}{9.0}{0.00038}
\br{2}{3}{2.5}{9.42}{9.57}{0.27}
\node[font=\tk, yshift=-9.2pt] at (axis cs:1.0,3.39) {TC0};
\node[font=\tk, yshift=-9.2pt] at (axis cs:2.06,3.39) {TC1};
\node[font=\tk, yshift=-9.2pt] at (axis cs:3.14,3.39) {TC2+};
\end{axis}

% ---------------- I ----------------
\node[font=\pl] at (667,378) {I};
\node[anchor=west,font=\kw,inner sep=0] at (727.7,354.3) {Kruskal−Wallis, p = 1.4e−06};
\begin{axis}[vax, at={(360.5pt,25.5pt)}, width=131.15pt, height=144.15pt, xmin=0.4, xmax=3.6, ymin=3.40, ymax=9.85,
 ytick={4,6,8}, xtick={1,2,3}, xticklabels={\mbox{},\mbox{},\mbox{}}, xlabel={IC.Level}, ylabel={CRG score},
 xlabel style={at={(axis description cs:0.587,-0.145)},anchor=center},
 ylabel style={at={(axis description cs:-0.175,0.545)},anchor=center}]
\violin{1}{\vIA}{bL}
\wh{1}{5.08}{3.70}{5.96}{7.76}
\nbox{1}{0.42}{5.08}{5.25}{5.49}{5.75}{5.96}{bB}
\addplot[pts=bP] coordinates {(0.93,7.72)(0.98,7.65)(1.06,7.42)(1.02,7.48)(1.12,6.80)(0.82,6.58)(0.87,6.62)(1.15,6.58)(0.92,6.45)(1.00,6.38)(1.03,6.22)(1.10,6.15)(1.16,6.10)(0.88,6.08)(0.95,6.05)(1.01,6.02)(1.07,5.98)(0.84,5.92)(0.91,5.90)(0.99,5.88)(1.05,5.85)(1.13,5.82)(0.86,5.78)(0.94,5.75)(1.02,5.72)(1.09,5.70)(0.81,5.66)(0.89,5.64)(0.97,5.60)(1.05,5.58)(1.14,5.55)(0.85,5.52)(0.93,5.50)(1.01,5.47)(1.08,5.44)(0.80,5.40)(0.88,5.37)(0.96,5.35)(1.04,5.32)(1.12,5.28)(0.84,5.25)(0.92,5.22)(1.00,5.18)(1.07,5.15)(0.87,5.10)(0.95,5.06)(1.03,5.02)(1.11,4.98)(0.83,4.95)(0.91,4.90)(0.99,4.85)(1.06,4.80)(0.88,4.75)(0.96,4.70)(1.04,4.62)(0.86,4.55)(0.94,4.50)(1.02,4.47)(0.90,4.40)(0.98,4.32)(1.08,4.25)(0.84,4.12)(0.80,4.05)(0.86,4.20)(0.78,3.88)(0.97,3.70)(1.10,5.90)(0.90,5.30)(1.00,6.50)(0.82,5.05)(1.12,4.45)(1.15,6.35)(0.92,6.85)};
\violin{2}{\vIB}{gL}
\wh{2}{5.34}{4.03}{6.38}{8.30}
\nbox{2}{0.42}{5.34}{5.62}{5.88}{6.12}{6.38}{gB}
\addplot[pts=gP] coordinates {(1.83,8.28)(1.88,7.98)(2.05,8.05)(1.82,7.35)(1.83,7.22)(1.93,7.00)(2.08,6.95)(1.86,6.90)(2.00,6.86)(2.14,6.82)(1.79,6.75)(1.91,6.72)(2.04,6.70)(2.17,6.66)(1.85,6.62)(1.97,6.58)(2.10,6.55)(1.80,6.50)(1.93,6.47)(2.06,6.44)(2.19,6.40)(1.88,6.36)(2.01,6.33)(2.13,6.30)(1.83,6.26)(1.95,6.23)(2.08,6.20)(2.21,6.17)(1.90,6.13)(2.03,6.10)(2.15,6.07)(1.78,6.04)(1.97,6.01)(2.10,5.98)(1.86,5.95)(2.00,5.92)(2.12,5.89)(1.81,5.86)(1.94,5.83)(2.06,5.80)(2.18,5.77)(1.89,5.74)(2.02,5.70)(2.14,5.66)(1.84,5.62)(1.96,5.58)(2.09,5.55)(1.79,5.50)(1.92,5.46)(2.05,5.42)(2.17,5.38)(1.87,5.34)(2.00,5.30)(2.12,5.26)(1.82,5.22)(1.95,5.17)(2.07,5.12)(1.90,5.06)(2.03,5.00)(1.85,4.95)(1.98,4.90)(2.10,4.85)(1.88,4.78)(2.02,4.70)(1.93,4.62)(2.08,4.55)(1.98,4.48)(1.84,4.42)(2.05,4.35)(2.11,4.22)(2.04,4.05)(2.09,4.05)(1.96,4.12)(2.12,4.50)(1.80,5.98)(2.20,6.25)(1.91,6.85)(2.00,5.50)};
\violin{3}{\vIC}{pL}
\wh{3}{5.52}{3.89}{6.71}{7.84}
\nbox{3}{0.42}{5.52}{5.85}{6.08}{6.32}{6.71}{pB}
\addplot[pts=pP] coordinates {(2.98,7.82)(3.16,7.80)(2.82,7.58)(3.05,7.60)(3.12,7.45)(2.96,7.20)(3.15,7.18)(2.88,7.02)(3.00,6.98)(3.12,6.95)(2.83,6.90)(2.94,6.88)(3.06,6.85)(3.18,6.82)(2.87,6.78)(2.99,6.75)(3.10,6.72)(2.80,6.68)(2.92,6.65)(3.03,6.62)(3.15,6.58)(2.85,6.55)(2.97,6.52)(3.08,6.48)(3.20,6.45)(2.90,6.42)(3.01,6.38)(3.13,6.35)(2.82,6.32)(2.94,6.30)(3.05,6.27)(3.17,6.24)(2.88,6.20)(2.99,6.17)(3.11,6.14)(2.84,6.10)(2.96,6.08)(3.07,6.05)(3.19,6.02)(2.91,5.98)(3.02,5.95)(3.14,5.92)(2.86,5.88)(2.98,5.85)(3.09,5.82)(2.81,5.78)(2.93,5.75)(3.04,5.72)(3.16,5.68)(2.89,5.64)(3.00,5.60)(3.12,5.56)(2.85,5.50)(2.97,5.45)(3.08,5.40)(2.92,5.35)(3.03,5.30)(3.15,5.35)(2.88,5.22)(2.99,5.15)(3.10,5.08)(2.84,5.00)(2.95,4.92)(3.06,4.85)(2.83,4.80)(2.91,4.72)(3.02,4.65)(2.87,4.60)(3.17,4.50)(2.95,4.40)(3.05,4.25)(3.03,4.10)(3.04,3.88)(2.97,4.95)(3.13,6.90)(2.90,6.00)(3.06,5.55)};
\br{1}{2}{1.5}{8.36}{8.48}{0.00039}
\br{1}{3}{2}{8.92}{9.05}{6e−07}
\br{2}{3}{2.5}{9.45}{9.59}{0.037}
\node[font=\tk, yshift=-8.35pt] at (axis cs:1.16,3.40) {IC0};
\node[font=\tk, yshift=-8.35pt] at (axis cs:2.24,3.40) {IC1};
\node[font=\tk, yshift=-8.35pt] at (axis cs:3.36,3.40) {IC2+};
\end{axis}
\pgfresetboundingbox
\path[use as bounding box] (0,0) rectangle (998,1211);
\end{tikzpicture}
\end{document}
